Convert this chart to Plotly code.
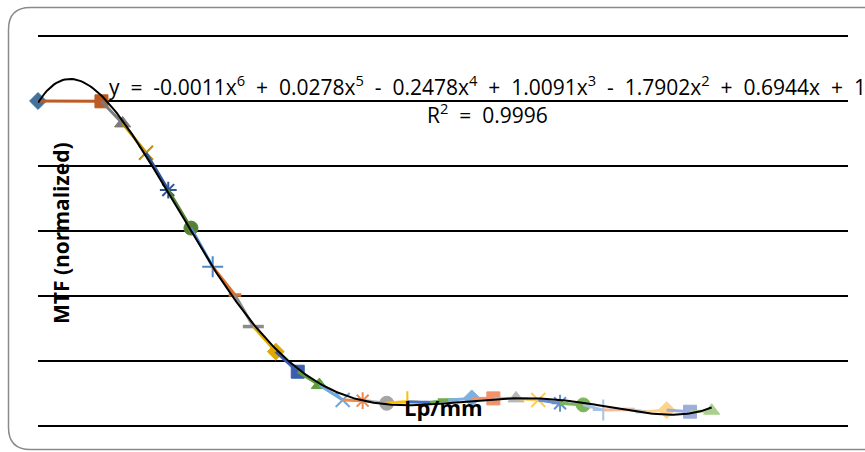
import numpy as np
import plotly.graph_objects as go

# ---- data ----
lp_mm = [0.0, 0.47, 0.627, 0.80, 0.965, 1.133, 1.294, 1.459, 1.595, 1.761,
         1.924, 2.084, 2.257, 2.405, 2.583, 2.736, 2.904, 3.039, 3.213, 3.373,
         3.541, 3.706, 3.867, 4.039, 4.187, 4.373, 4.504, 4.657, 4.830, 4.990]
mtf = [1.000, 0.999, 0.931, 0.841, 0.726, 0.609, 0.490, 0.403, 0.306, 0.229,
       0.167, 0.126, 0.080, 0.078, 0.070, 0.075, 0.072, 0.080, 0.085, 0.085,
       0.085, 0.080, 0.070, 0.065, 0.049, 0.051, 0.044, 0.049, 0.044, 0.047]
series_colors = ["#41719C", "#BE5B22", "#7B7B7B", "#BF9000", "#2F5597", "#548235",
                 "#4E8AC8", "#D9722E", "#8C8C8C", "#E0A800", "#3A5DAE", "#5E9E3E",
                 "#6FA8DC", "#F08A4B", "#A5A5A5", "#FFC000", "#4472C4", "#70AD47",
                 "#7EB0E0", "#F1926A", "#B7B7B7", "#FFCD5A", "#698ED0", "#7DB55A",
                 "#A4C3E6", "#F4B89C", "#C9C9C9", "#FFD38A", "#9DAEDD", "#A9D08E"]
marker_cycle = ["diamond", "square", "triangle", "x", "asterisk", "circle",
                "plus", "shortdash", "longdash"]
y_grid = [0, 0.2, 0.4, 0.6, 0.8, 1.0, 1.2]
SP = "\u00a0\u00a0"
equation_text = ("y" + SP + "=" + SP + "-0.0011x<sup>6</sup>" + SP + "+" + SP + "0.0278x<sup>5</sup>"
                 + SP + "-" + SP + "0.2478x<sup>4</sup>" + SP + "+" + SP + "1.0091x<sup>3</sup>"
                 + SP + "-" + SP + "1.7902x<sup>2</sup>" + SP + "+" + SP + "0.6944x" + SP + "+" + SP + "1")
r2_text = "R<sup>2</sup>" + SP + "=" + SP + "0.9996"
x_title = "Lp/mm"
y_title = "MTF (normalized)"
poly_degree = 6

# ---- geometry helpers (figure pixel -> paper) ----
W, H = 865, 452
L, R, T, B = 38, 17, 32, 26
PW, PH = W - L - R, H - T - B
Y_TOP = 1.2 * PH / 390.0   # keeps 1.2 at pixel row 36


def px(x):
    return (x - L) / PW


def py(y):
    return (H - B - y) / PH


sym_map = {
    "diamond": dict(symbol="diamond", size=13, lw=1),
    "square": dict(symbol="square", size=13, lw=1),
    "triangle": dict(symbol="triangle-up", size=14, lw=1),
    "x": dict(symbol="x-thin-open", size=14, lw=2),
    "asterisk": dict(symbol="asterisk-open", size=14, lw=2),
    "circle": dict(symbol="circle", size=14, lw=1),
    "plus": dict(symbol="cross-thin-open", size=15, lw=2),
    "shortdash": dict(symbol="line-ew-open", size=9, lw=3.5),
    "longdash": dict(symbol="line-ew-open", size=15, lw=3.5),
}

fig = go.Figure()
for i in range(len(lp_mm)):
    c = series_colors[i]
    if i > 0:
        fig.add_trace(go.Scatter(x=[lp_mm[i - 1], lp_mm[i]], y=[mtf[i - 1], mtf[i]],
                                 mode="lines", line=dict(color=c, width=3),
                                 cliponaxis=False, showlegend=False, hoverinfo="skip"))
    m = sym_map[marker_cycle[i % len(marker_cycle)]]
    fig.add_trace(go.Scatter(x=[lp_mm[i]], y=[mtf[i]], mode="markers",
                             marker=dict(symbol=m["symbol"], size=m["size"], color=c,
                                         line=dict(color=c, width=m["lw"])),
                             cliponaxis=False, showlegend=False))

# polynomial trendline (order 6) fitted to the data
coef = np.polyfit(lp_mm, mtf, poly_degree)
xt = np.linspace(min(lp_mm), max(lp_mm), 300)
fig.add_trace(go.Scatter(x=xt, y=np.polyval(coef, xt), mode="lines",
                         line=dict(color="black", width=2), cliponaxis=False,
                         showlegend=False, hoverinfo="skip"))

font_reg = "Open Sans, Lato, sans-serif"

# chart border (rounded rectangle, right edge beyond the canvas)
r = 22
x0, y0, x1, y1 = 8.5, 7.5, 900, 449.5
path = (f"M {px(x0)} {py(y0 + r)} Q {px(x0)} {py(y0)} {px(x0 + r)} {py(y0)} "
        f"L {px(x1)} {py(y0)} L {px(x1)} {py(y1)} L {px(x0 + r)} {py(y1)} "
        f"Q {px(x0)} {py(y1)} {px(x0)} {py(y1 - r)} Z")

fig.update_layout(
    width=W, height=H,
    margin=dict(l=L, r=R, t=T, b=B),
    paper_bgcolor="white", plot_bgcolor="white",
    showlegend=False,
    xaxis=dict(range=[0, 6], showgrid=False, zeroline=False, showline=False,
               showticklabels=False, ticks=""),
    yaxis=dict(range=[0, Y_TOP], tickvals=y_grid,
               showgrid=True, gridcolor="black", gridwidth=1.5,
               zeroline=True, zerolinecolor="black", zerolinewidth=1.5,
               showline=False, showticklabels=False, ticks=""),
    shapes=[dict(type="path", path=path, xref="paper", yref="paper",
                 line=dict(color="#8A8A8A", width=1.5), fillcolor="rgba(0,0,0,0)")],
    annotations=[
        dict(text=equation_text, x=px(107), y=py(85), xref="paper", yref="paper",
             xanchor="left", yanchor="middle", showarrow=False,
             font=dict(family=font_reg, size=21, color="black")),
        dict(text=r2_text, x=px(487), y=py(114), xref="paper", yref="paper",
             xanchor="center", yanchor="middle", showarrow=False,
             font=dict(family=font_reg, size=21, color="black")),
        dict(text="<b>" + x_title + "</b>", x=px(443), y=py(407), xref="paper", yref="paper",
             xanchor="center", yanchor="middle", showarrow=False,
             font=dict(family=font_reg, size=22, color="black")),
        dict(text="<b>" + y_title + "</b>", x=px(61), y=py(233), xref="paper", yref="paper",
             xanchor="center", yanchor="middle", showarrow=False, textangle=-90,
             font=dict(family=font_reg, size=21, color="black")),
    ],
)

fig.write_html("out.html", config={"displayModeBar": False},
               post_script="document.body.style.margin='0';document.body.style.overflow='hidden';")
